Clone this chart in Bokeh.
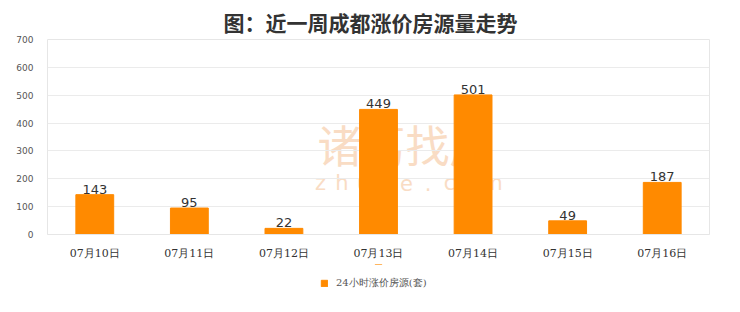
from bokeh.plotting import figure
from bokeh.layouts import column
from bokeh.models import ColumnDataSource, FixedTicker, Range1d, Label, Legend, LegendItem
from bokeh.embed import file_html
from bokeh.resources import INLINE
from bokeh.core.properties import value

title = "图：近一周成都涨价房源量走势"
categories = ["07月10日", "07月11日", "07月12日", "07月13日", "07月14日", "07月15日", "07月16日"]
values = [143, 95, 22, 449, 501, 49, 187]
series_name = "24小时涨价房源(套)"
y_ticks = [0, 100, 200, 300, 400, 500, 600, 700]
watermark_cn = "诸葛找房"
watermark_en = "zhuge.com"

FONT = "Noto Sans CJK SC"
WM = "#f9dcc4"
BAR = "#ff8a00"

src = ColumnDataSource(dict(cat=categories, val=values, lbl=[str(v) for v in values]))

p = figure(width=740, height=264, x_range=categories, y_range=Range1d(0, 700),
           output_backend="svg", toolbar_location=None,
           min_border_left=47, min_border_right=31, min_border_top=39, min_border_bottom=30)
p.background_fill_color = "white"
p.border_fill_color = "white"
p.outline_line_color = "#e6e6e6"

# faint watermark (frame-relative screen units)
p.add_layout(Label(x=358, y=91, x_units="screen", y_units="screen", text=watermark_cn,
                   text_font=FONT, text_font_size="44px", text_color=WM, level="image",
                   text_align="center", text_baseline="middle"))
for i, ch in enumerate(watermark_en):
    p.add_layout(Label(x=273 + i * 21.5, y=52, x_units="screen", y_units="screen", text=ch,
                       text_font="DejaVu Sans", text_font_size="21px", text_color=WM,
                       level="image", text_align="center", text_baseline="middle"))

r = p.vbar(x="cat", top="val", width=0.4, source=src, fill_color=BAR, line_color=BAR)
p.text(x="cat", y="val", text="lbl", source=src, text_align="center", text_baseline="bottom",
       y_offset=-1, text_font=value("DejaVu Sans"), text_font_size="13px", text_color="#333333")

p.title.text = title
p.title.align = "left"
p.title.text_font = FONT
p.title.text_font_size = "21px"
p.title.text_font_style = "bold"
p.title.text_color = "#333333"
p.title.offset = 176
p.title.standoff = 6

p.yaxis.ticker = FixedTicker(ticks=y_ticks)
p.yaxis.axis_line_color = None
p.yaxis.major_tick_line_color = None
p.yaxis.minor_tick_line_color = None
p.yaxis.major_label_text_font = "DejaVu Sans"
p.yaxis.major_label_text_font_size = "9px"
p.yaxis.major_label_text_color = "#555555"
p.yaxis.major_label_standoff = 8

p.xaxis.axis_line_color = "#e6e6e6"
p.xaxis.major_tick_line_color = None
p.xaxis.minor_tick_line_color = None
p.xaxis.major_label_text_font = "DejaVu Serif"
p.xaxis.major_label_text_font_size = "11px"
p.xaxis.major_label_text_color = "#333333"
p.xaxis.major_label_standoff = 6

p.xgrid.grid_line_color = None
p.ygrid.grid_line_color = "#ebebeb"

# legend strip as a separate small figure
lg = figure(width=740, height=48, x_range=Range1d(0, 1), y_range=Range1d(0, 1),
            output_backend="svg", toolbar_location=None,
            min_border_left=0, min_border_right=0, min_border_top=0, min_border_bottom=0)
lg.axis.visible = False
lg.grid.grid_line_color = None
lg.outline_line_color = None
lg.background_fill_color = "white"
lg.border_fill_color = "white"
# a swatch renderer kept outside the visible range; only its legend swatch shows
swatch = lg.vbar(x=[0.5], top=[9], bottom=[8], width=0.01, fill_color=BAR, line_color=BAR)

legend = Legend(items=[LegendItem(label=series_name, renderers=[swatch])],
                orientation="horizontal", location=(273, 22),
                label_text_font="DejaVu Serif", label_text_font_size="10px",
                label_text_color="#555555", glyph_width=8, glyph_height=8,
                border_line_color=None, background_fill_alpha=0, margin=0, padding=0,
                label_standoff=8, label_height=12)
lg.add_layout(legend)

open("out.html", "w").write(file_html(column(p, lg, spacing=0), INLINE))
